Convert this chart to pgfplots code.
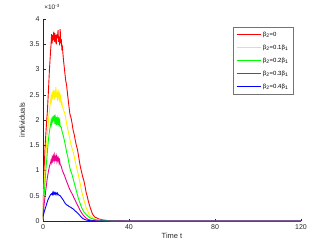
\documentclass[border=0pt]{standalone}
\usepackage{pgfplots}
\pgfplotsset{compat=1.18}
\usepackage{fontspec}
\setmainfont{Liberation Sans}
\pgfplotstableread{
t v
0 0.05
0.25 0.6
0.5 1.0
1 1.5
1.5 1.85
2 2.15
2.5 2.55
3 3.0
3.5 3.35
3.75 3.5
4 3.7
4.25 3.52
4.5 3.68
4.75 3.58
5 3.75
5.25 3.55
5.5 3.72
5.75 3.6
6 3.68
6.25 3.5
6.5 3.7
6.75 3.62
7 3.78
7.25 3.55
7.5 3.65
7.75 3.48
8 3.8
8.25 3.52
8.5 3.6
8.75 3.42
9 3.45
9.5 3.2
10 3.0
10.5 2.8
11 2.68
11.5 2.48
12 2.3
12.5 2.12
13 2.05
13.5 1.94
14 1.8
14.5 1.72
15 1.6
15.5 1.5
16 1.42
16.5 1.3
17 1.16
17.5 1.05
18 0.96
18.5 0.87
19 0.8
19.5 0.7
20 0.58
20.5 0.5
21 0.41
21.5 0.33
22 0.26
22.5 0.2
23 0.14
23.5 0.11
24 0.08
25 0.06
26 0.04
28 0.02
30 0.01
32 0.005
35 0.002
40 0
120 0
}\redtab
\pgfplotstableread{
t v
0 0.04
0.25 0.4
0.5 0.7
1 1.05
1.5 1.4
2 1.7
2.5 1.98
3 2.2
3.5 2.35
3.75 2.45
4 2.38
4.25 2.55
4.5 2.42
4.75 2.6
5 2.45
5.25 2.58
5.5 2.4
5.75 2.52
6 2.65
6.25 2.45
6.5 2.55
6.75 2.38
7 2.6
7.25 2.48
7.5 2.42
7.75 2.55
8 2.4
8.25 2.45
8.5 2.32
8.75 2.35
9 2.28
9.5 2.2
10 2.15
10.5 2.05
11 1.92
11.5 1.82
12 1.72
12.5 1.62
13 1.52
13.5 1.44
14 1.38
14.5 1.28
15 1.18
15.5 1.08
16 1.0
16.5 0.9
17 0.8
17.5 0.7
18 0.58
18.5 0.5
19 0.42
19.5 0.35
20 0.27
20.5 0.22
21 0.18
21.5 0.13
22 0.1
23 0.07
24 0.04
26 0.02
28 0.01
32 0.003
36 0
120 0
}\yellowtab
\pgfplotstableread{
t v
0 0.03
0.25 0.3
0.5 0.5
1 0.8
1.5 1.1
2 1.35
2.5 1.6
3 1.78
3.5 1.9
3.75 1.98
4 1.92
4.25 2.05
4.5 1.95
4.75 2.08
5 1.98
5.25 2.1
5.5 1.92
5.75 2.04
6 1.96
6.25 2.06
6.5 1.9
6.75 2.02
7 1.95
7.25 2.05
7.5 1.92
7.75 1.98
8 1.88
8.5 1.85
9 1.75
9.5 1.68
10 1.58
10.5 1.48
11 1.36
11.5 1.28
12 1.16
12.5 1.05
13 0.98
13.5 0.92
14 0.84
14.5 0.76
15 0.68
15.5 0.6
16 0.52
16.5 0.44
17 0.38
17.5 0.32
18 0.26
18.5 0.22
19 0.18
20 0.13
21 0.09
22 0.06
24 0.03
26 0.015
30 0.005
35 0
120 0
}\greentab
\pgfplotstableread{
t v
0 0.02
0.25 0.2
0.5 0.32
1 0.5
1.5 0.68
2 0.85
2.5 0.98
3 1.08
3.5 1.15
3.75 1.2
4 1.16
4.25 1.25
4.5 1.2
4.75 1.28
5 1.22
5.25 1.3
5.5 1.2
5.75 1.27
6 1.22
6.25 1.28
6.5 1.18
6.75 1.25
7 1.2
7.25 1.24
7.5 1.15
7.75 1.2
8 1.12
8.5 1.08
9 1.0
9.5 0.95
10 0.9
10.5 0.84
11 0.78
11.5 0.73
12 0.67
12.5 0.62
13 0.58
13.5 0.54
14 0.5
14.5 0.45
15 0.41
15.5 0.36
16 0.32
16.5 0.28
17 0.23
17.5 0.19
18 0.16
18.5 0.13
19 0.1
20 0.06
21 0.03
23 0.01
26 0
120 0
}\magentatab
\pgfplotstableread{
t v
0 0.09
0.5 0.17
1 0.24
1.5 0.31
2 0.38
2.5 0.44
3 0.48
3.5 0.52
4 0.54
4.25 0.52
4.5 0.56
4.75 0.53
5 0.57
5.25 0.54
5.5 0.56
5.75 0.53
6 0.56
6.25 0.55
6.5 0.52
6.75 0.55
7 0.53
7.5 0.51
8 0.5
8.5 0.47
9 0.44
9.5 0.41
10 0.37
10.5 0.34
11 0.32
11.5 0.31
12 0.29
12.5 0.28
13 0.27
13.5 0.25
14 0.24
14.5 0.22
15 0.2
15.5 0.18
16 0.16
16.5 0.14
17 0.12
17.5 0.09
18 0.07
18.5 0.05
19 0.04
20 0.02
22 0.005
25 0
120 0
}\bluetab
\begin{document}
\begin{tikzpicture}
\useasboundingbox (-43pt,-28pt) rectangle (289pt,221pt);
\begin{axis}[
  scale only axis, width=258pt, height=202pt,
  xmin=0, xmax=120, ymin=0, ymax=4,
  clip mode=individual,
  axis x line*=bottom, axis y line*=left,
  axis line style={-, black!85, line width=0.4pt},
  xtick={0,40,80,120},
  ytick={0,0.5,1,1.5,2,2.5,3,3.5,4},
  yticklabels={0,0.5,1,1.5,2,2.5,3,3.5,4},
  tick align=inside, major tick length=2.5pt,
  tick style={black!85, line width=0.4pt},
  /pgf/number format/assume math mode=true,
  ticklabel style={font=\fontsize{7}{8}\selectfont, text=black!85},
  xlabel={Time t}, ylabel={individuals},
  label style={font=\fontsize{7.5}{9}\selectfont, text=black!85},
  xlabel style={yshift=3pt},
  ylabel style={yshift=-2pt},
  legend cell align=left,
  legend image post style={xscale=1.4},
  legend style={at={(0.969,0.96)}, anchor=north east, draw=black!55,
    font=\fontsize{6}{7}\selectfont, row sep=3.2pt, inner sep=2.5pt},
  every axis plot/.append style={line width=0.9pt},
]
\addplot[red] table[x=t,y=v] {\redtab};
\addlegendentry{β\textsubscript{2}=0}
\addplot[yellow] table[x=t,y=v] {\yellowtab};
\addlegendentry{β\textsubscript{2}=0.1β\textsubscript{1}}
\addplot[green] table[x=t,y=v] {\greentab};
\addlegendentry{β\textsubscript{2}=0.2β\textsubscript{1}}
\addplot[magenta] table[x=t,y=v] {\magentatab};
\addlegendentry{β\textsubscript{2}=0.3β\textsubscript{1}}
\addplot[blue] table[x=t,y=v] {\bluetab};
\addlegendentry{β\textsubscript{2}=0.4β\textsubscript{1}}
\node[anchor=south west, inner sep=0pt, yshift=9pt, font=\fontsize{6.5}{7}\selectfont, text=black!85] at (rel axis cs:0,1) {\,×10\textsuperscript{-3}};
\end{axis}
\end{tikzpicture}
\end{document}
